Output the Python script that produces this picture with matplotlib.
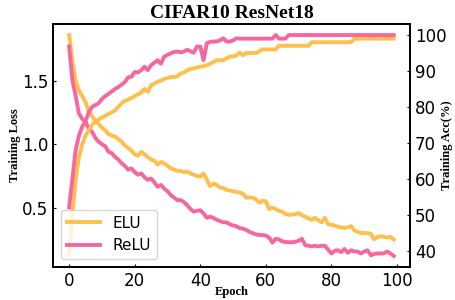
import numpy as np
import matplotlib
matplotlib.use('Agg')
import matplotlib.pyplot as plt

epochs = list(range(100))

elu_loss = [1.86, 1.65, 1.50, 1.42, 1.38, 1.33, 1.26, 1.22, 1.19, 1.16,
            1.13, 1.11, 1.08, 1.07, 1.06, 1.04, 1.02, 0.99, 0.97, 0.95,
            0.92, 0.91, 0.94, 0.92, 0.90, 0.88, 0.87, 0.84, 0.86, 0.85,
            0.83, 0.81, 0.80, 0.79, 0.79, 0.78, 0.785, 0.77, 0.76, 0.75,
            0.745, 0.77, 0.72, 0.67, 0.69, 0.68, 0.66, 0.655, 0.64, 0.635,
            0.63, 0.625, 0.62, 0.61, 0.58, 0.58, 0.58, 0.565, 0.54, 0.555,
            0.55, 0.49, 0.50, 0.49, 0.475, 0.47, 0.45, 0.445, 0.445, 0.45,
            0.458, 0.44, 0.43, 0.415, 0.405, 0.42, 0.40, 0.385, 0.42, 0.37,
            0.365, 0.36, 0.35, 0.345, 0.34, 0.345, 0.355, 0.32, 0.31, 0.30,
            0.30, 0.30, 0.295, 0.25, 0.27, 0.275, 0.27, 0.265, 0.27, 0.25]

relu_loss = [1.77, 1.50, 1.38, 1.24, 1.20, 1.18, 1.12, 1.10, 1.05, 1.02,
             1.00, 0.985, 0.94, 0.93, 0.90, 0.88, 0.85, 0.83, 0.80, 0.81,
             0.78, 0.76, 0.77, 0.74, 0.72, 0.73, 0.70, 0.665, 0.68, 0.65,
             0.63, 0.60, 0.58, 0.56, 0.56, 0.545, 0.52, 0.49, 0.47, 0.475,
             0.48, 0.455, 0.42, 0.43, 0.42, 0.405, 0.395, 0.385, 0.385, 0.37,
             0.36, 0.355, 0.34, 0.335, 0.325, 0.31, 0.30, 0.29, 0.285, 0.285,
             0.28, 0.265, 0.225, 0.255, 0.25, 0.235, 0.23, 0.228, 0.228, 0.232,
             0.24, 0.255, 0.205, 0.2, 0.195, 0.2, 0.195, 0.2, 0.2, 0.17,
             0.14, 0.16, 0.165, 0.15, 0.175, 0.145, 0.165, 0.155, 0.155, 0.14,
             0.155, 0.165, 0.125, 0.135, 0.14, 0.14, 0.14, 0.155, 0.14, 0.12]

elu_acc = [38.5, 50, 60, 66, 69.5, 72, 73.5, 75, 75.8, 76.5,
           77, 77.5, 78, 78.5, 79, 80, 81, 81.7, 82, 82.5,
           83, 83.5, 84, 85, 84.2, 86, 86.5, 87, 87.3, 87.8,
           88, 88.3, 88.3, 88.5, 89.3, 89.5, 90.2, 90.5, 90.7, 91,
           91.2, 91.3, 91.6, 92, 92.5, 93, 93, 93, 93.5, 94,
           94, 94.3, 95.1, 94.4, 95, 95, 95, 95, 95.5, 96,
           96, 96, 96, 96, 97, 97, 97, 97, 97, 97,
           97, 97, 97, 97, 98, 98, 98, 98, 98, 98,
           98, 98, 98, 98, 98, 98, 98, 99, 99, 99,
           99, 99, 99, 99, 99, 99, 99, 99, 99, 99]

relu_acc = [52, 60, 68, 72, 74.5, 76, 78.5, 80, 80.5, 81,
            82.2, 83, 83.6, 84.3, 85, 85.5, 86.2, 86.9, 88.2, 88.4,
            89.7, 89.6, 90.2, 91.2, 90.2, 91.6, 92.3, 93, 92, 94,
            94.5, 94.9, 95.3, 95.4, 95.2, 95.4, 95.9, 95.5, 95.1, 96.8,
            96.8, 93, 97.7, 98.1, 98.2, 98.2, 98.5, 99.1, 98.2, 98.2,
            98.5, 99.1, 99, 99, 99, 99, 99, 99, 99, 99,
            99, 99, 99, 100, 99, 99, 99, 100, 100, 100,
            100, 100, 100, 100, 100, 100, 100, 100, 100, 100,
            100, 100, 100, 100, 100, 100, 100, 100, 100, 100,
            100, 100, 100, 100, 100, 100, 100, 100, 100, 100]

elu_color = '#FFBF4D'
relu_color = '#F5689D'
serif = ['Liberation Serif', 'DejaVu Serif']

fig, ax = plt.subplots(figsize=(4.56, 3.0), dpi=100)
fig.subplots_adjust(left=0.116, right=0.899, top=0.92, bottom=0.11)
ax2 = ax.twinx()

l1, = ax.plot(epochs, elu_loss, color=elu_color, lw=2.8, label='ELU')
l2, = ax.plot(epochs, relu_loss, color=relu_color, lw=2.8, label='ReLU')
ax2.plot(epochs, elu_acc, color=elu_color, lw=2.8)
ax2.plot(epochs, relu_acc, color=relu_color, lw=2.8)

ax.set_xticks([0, 20, 40, 60, 80, 100])
ax.set_yticks([0.5, 1.0, 1.5])
ax2.set_yticks([40, 50, 60, 70, 80, 90, 100])

for a in (ax, ax2):
    a.tick_params(direction='in', length=2.5, width=0.8, labelsize=12)
    for s in a.spines.values():
        s.set_linewidth(1.3)

ax.set_title('CIFAR10 ResNet18', fontsize=14, fontweight='bold', family=serif, pad=4)
ax.set_xlabel('Epoch', fontsize=9, fontweight='bold', family=serif)
ax.set_ylabel('Training Loss', fontsize=9, fontweight='bold', family=serif)
ax2.set_ylabel('Training Acc(%)', fontsize=9, fontweight='bold', family=serif)
ax.xaxis.set_label_coords(0.5, -0.078)
ax.yaxis.set_label_coords(-0.09, 0.5)
ax2.yaxis.set_label_coords(1.087, 0.5)

ax2.legend(handles=[l1, l2], loc='lower left', fontsize=11, handlelength=2.2)

fig.savefig('out.png', dpi=100)
